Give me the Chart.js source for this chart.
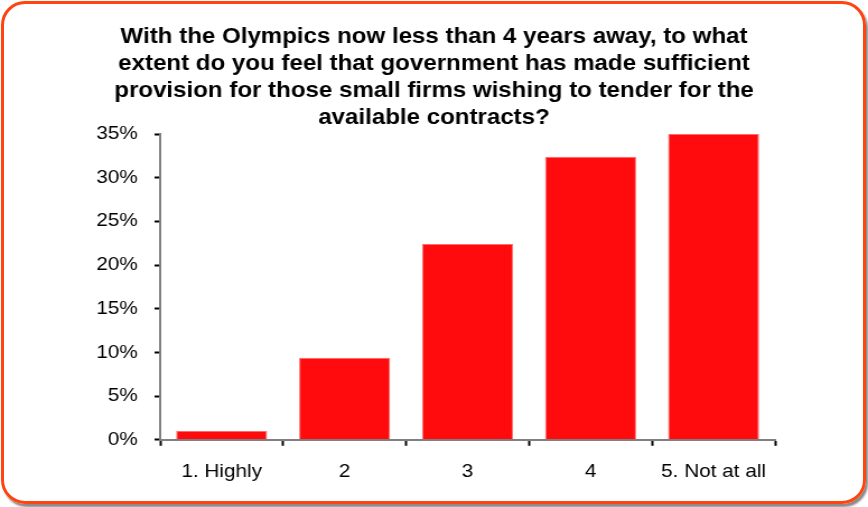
<!DOCTYPE html>
<html>
<head>
<meta charset="utf-8">
<script src="https://cdn.jsdelivr.net/npm/chart.js@4/dist/chart.umd.min.js"></script>
<style>
  html, body { margin: 0; padding: 0; background: #fff; }
  #wrap { position: relative; width: 868px; height: 507px; overflow: hidden; }
  #frame {
    position: absolute; left: 1px; top: 1px; width: 859px; height: 497px;
    border: 3px solid #ff4411; border-radius: 24px;
    box-shadow: 2px 3px 2px #8a8a8a;
  }
  /* the drawing is stretched a little sideways, like the wide lettering of the original */
  #chart { position: absolute; left: 0; top: 0; transform: scaleX(1.12); transform-origin: 0 0; }
</style>
</head>
<body>
<div id="wrap">
  <div id="frame"></div>
  <canvas id="chart" width="775" height="507"></canvas>
</div>
<script>
// Survey answers and share of respondents (%)
const categories = ['1. Highly', '2', '3', '4', '5. Not at all'];
const shares = [1.0, 9.4, 22.4, 32.4, 35.0];
const titleLines = [
  'With the Olympics now less than 4 years away, to what',
  'extent do you feel that government has made sufficient',
  'provision for those small firms wishing to tender for the',
  'available contracts?'
];

const font = 'Liberation Sans, Arial, sans-serif';

new Chart(document.getElementById('chart'), {
  type: 'bar',
  data: {
    labels: categories,
    datasets: [{
      data: shares,
      backgroundColor: '#ff0b0d',
      borderColor: '#ff6a6a',
      borderWidth: 1,
      barPercentage: 0.74,
      categoryPercentage: 1
    }]
  },
  options: {
    responsive: false,
    animation: false,
    layout: { padding: { left: 0, right: 0, top: 0, bottom: 9 } },
    plugins: {
      legend: { display: false },
      tooltip: { enabled: false },
      title: {
        display: true,
        text: titleLines,
        color: '#000',
        font: { family: font, size: 21.5, weight: 'bold', lineHeight: 27 / 21.5 },
        padding: { top: 24, bottom: 2 }
      }
    },
    scales: {
      x: {
        grid: {
          drawOnChartArea: false,
          tickLength: 6,
          tickColor: '#000',
          tickWidth: 2
        },
        border: { color: '#808080', width: 2 },
        ticks: {
          color: '#000',
          padding: 15,
          font: { family: font, size: 18.5 }
        }
      },
      y: {
        min: 0,
        max: 35,
        afterFit: (scale) => { scale.width = 143; },
        grid: {
          drawOnChartArea: false,
          tickLength: 5,
          tickColor: '#000',
          tickWidth: 2
        },
        border: { color: '#808080', width: 2 },
        ticks: {
          stepSize: 5,
          color: '#000',
          padding: 15,
          font: { family: font, size: 18.5 },
          callback: (v) => v + '%'
        }
      },
      // empty right-hand band so the plot stops short of the frame
      right: {
        position: 'right',
        afterFit: (scale) => { scale.width = 83; },
        grid: { display: false },
        border: { display: false },
        ticks: { display: false }
      }
    }
  }
});
</script>
</body>
</html>
